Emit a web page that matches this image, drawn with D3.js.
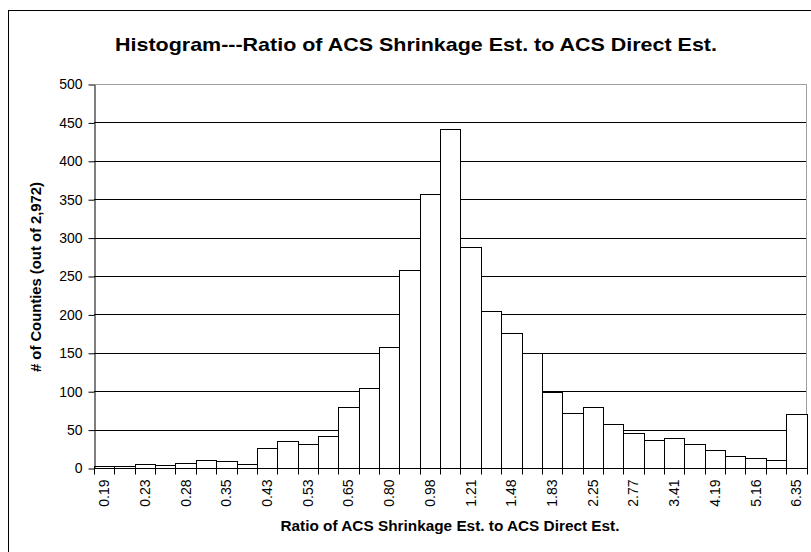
<!DOCTYPE html>
<html>
<head>
<meta charset="utf-8">
<script src="https://cdn.jsdelivr.net/npm/d3@7"></script>
<style>
  html, body { margin: 0; padding: 0; background: #fff; }
  svg { display: block; }
  text { font-family: "Liberation Sans", Arial, sans-serif; }
</style>
</head>
<body>
<svg id="chart" width="811" height="552"></svg>
<script>
// ---- data ----
const categories = ["0.19","0.21","0.23","0.25","0.28","0.31","0.35","0.39","0.43","0.48",
  "0.53","0.59","0.65","0.72","0.80","0.89","0.98","1.09","1.21","1.34",
  "1.48","1.64","1.83","2.03","2.25","2.50","2.77","3.08","3.41","3.78",
  "4.19","4.65","5.16","5.73","6.35"];
const counts = [2,3,5,4,6,11,9,5,26,35,
  31,42,79,104,157,258,357,442,288,204,
  176,150,99,72,79,57,45,36,39,31,
  23,16,13,11,70];
const yTicks = [0,50,100,150,200,250,300,350,400,450,500];
const titleText = "Histogram---Ratio of ACS Shrinkage Est. to ACS Direct Est.";
const xTitle = "Ratio of ACS Shrinkage Est. to ACS Direct Est.";
const yTitle = "# of Counties (out of 2,972)";

// ---- layout ----
const svg = d3.select("#chart");
const L = 94, R = 806.5, T = 84, B = 468;
const FONT = "'Liberation Sans', Arial, sans-serif";

// outer chart border
svg.append("rect").attr("x", 8.5).attr("y", 10.5).attr("width", 900).attr("height", 700)
  .attr("fill", "none").attr("stroke", "#000").attr("stroke-width", 1);

const x = d3.scaleBand().domain(categories).range([L, R]).padding(0);
const y = d3.scaleLinear().domain([0, 500]).range([B, T]);

// gridlines
svg.append("g").selectAll("line").data(yTicks.filter(v => v > 0)).join("line")
  .attr("x1", L).attr("x2", R)
  .attr("y1", d => Math.round(y(d)) + 0.5).attr("y2", d => Math.round(y(d)) + 0.5)
  .attr("stroke", d => d === 500 ? "#a0a0a0" : "#000").attr("stroke-width", 1);
// right plot border
svg.append("line").attr("x1", R).attr("x2", R).attr("y1", T).attr("y2", B)
  .attr("stroke", "#a0a0a0");

// bars
svg.append("g").selectAll("rect").data(counts).join("rect")
  .attr("x", (d, i) => Math.round(x(categories[i])) + 0.5)
  .attr("width", (d, i) => Math.round(x(categories[i]) + x.bandwidth()) - Math.round(x(categories[i])))
  .attr("y", d => Math.round(y(d)) + 0.5)
  .attr("height", d => Math.round(B) - Math.round(y(d)))
  .attr("fill", "#fff").attr("stroke", "#000").attr("stroke-width", 1);

// y axis
const yAxis = d3.axisLeft(y).tickValues(yTicks).tickSize(6).tickPadding(6).tickSizeOuter(0);
const gy = svg.append("g").attr("transform", `translate(${L + 0.5},0.5)`).call(yAxis);
gy.selectAll("text").attr("font-size", 14).attr("fill", "#000").attr("font-family", FONT);
gy.selectAll("line, path").attr("stroke", "#000");

// x axis
const xAxis = d3.axisBottom(x).tickSize(0).tickFormat((d, i) => i % 2 === 0 ? d : "");
const gx = svg.append("g").attr("transform", `translate(0,${B + 0.5})`).call(xAxis);
gx.select(".domain").attr("stroke", "#000").attr("d", `M${L},0H${R}`);
gx.selectAll(".tick text")
  .attr("font-size", 14).attr("fill", "#000").attr("font-family", FONT)
  .attr("transform", "rotate(-90)")
  .attr("text-anchor", "end")
  .attr("x", -11).attr("y", 0).attr("dy", "0.35em");
// tick marks at bar boundaries
const bounds = categories.map(c => x(c)).concat([x(categories[categories.length - 1]) + x.bandwidth()]);
gx.append("g").selectAll("line").data(bounds).join("line")
  .attr("x1", d => Math.round(d) + 0.5).attr("x2", d => Math.round(d) + 0.5)
  .attr("y1", 0).attr("y2", 6).attr("stroke", "#000");

// titles
svg.append("text").attr("x", 416).attr("y", 51).attr("text-anchor", "middle")
  .attr("font-size", 19).attr("font-weight", "bold")
  .attr("textLength", 602).attr("lengthAdjust", "spacingAndGlyphs").text(titleText);
svg.append("text").attr("x", 450).attr("y", 531).attr("text-anchor", "middle")
  .attr("font-size", 14).attr("font-weight", "bold")
  .attr("textLength", 339).attr("lengthAdjust", "spacingAndGlyphs").text(xTitle);
svg.append("text").attr("transform", "translate(41,277) rotate(-90)").attr("text-anchor", "middle")
  .attr("font-size", 14).attr("font-weight", "bold")
  .attr("textLength", 190).attr("lengthAdjust", "spacingAndGlyphs").text(yTitle);
</script>
</body>
</html>
